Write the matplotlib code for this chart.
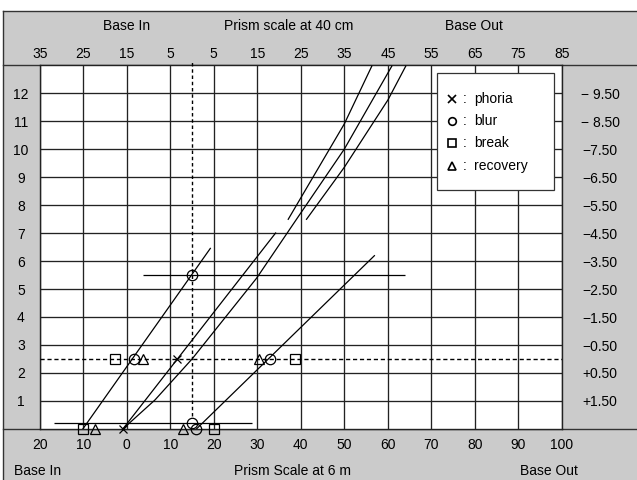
import matplotlib.pyplot as plt
from matplotlib.patches import Rectangle
from matplotlib.lines import Line2D

plt.rcParams['font.family'] = ['Liberation Sans', 'DejaVu Sans']

# scales
dist_ticks = list(range(-20, 101, 10))            # prism at 6 m, base out positive
dist_labels = [str(abs(v)) for v in dist_ticks]
near_labels = ['35', '25', '15', '5', '5', '15', '25', '35', '45', '55', '65', '75', '85']
acc_levels = list(range(1, 13))
lens_labels = ['+1.50', '+0.50', '\u22120.50', '\u22121.50', '\u22122.50', '\u22123.50',
               '\u22124.50', '\u22125.50', '\u22126.50', '\u22127.50', '\u2212 8.50', '\u2212 9.50']

# near findings (accommodation 2.5)
near_y = 2.5
near_phoria = [11.6]
near_blur = [1.7, 32.8]
near_break = [-2.7, 38.6]
near_recovery = [3.8, 30.4]

# distance findings (accommodation 0)
dist_y = 0.0
dist_phoria = [-0.9]
dist_blur = [16.0]
dist_break = [-10.1, 20.0]
dist_recovery = [-7.3, 13.0]

# lens blur findings on the near demand
lens_blur_x = [15.0, 15.0]
lens_blur_y = [0.23, 5.5]
lens_line_y = [0.23, 5.5]
lens_line_x0 = [-16.6, 3.7]
lens_line_x1 = [28.8, 63.9]

# lines
bi_line_x = [-10.1, 19.2]
bi_line_y = [0.0, 6.45]
phoria_line_x = [-0.9, 34.2]
phoria_line_y = [0.0, 7.0]
bo_line_x = [16.0, 56.9]
bo_line_y = [0.0, 6.19]
demand_x = [-0.9, 6.5, 15.0, 29.85, 39.0, 50.0, 60.9]
demand_y = [0.0, 1.04, 2.5, 5.39, 7.49, 10.0, 12.96]
upper_left_x = [37.1, 50.0, 56.3]
upper_left_y = [7.49, 10.9, 12.96]
upper_right_x = [41.3, 50.0, 60.0, 64.1]
upper_right_y = [7.49, 9.35, 11.75, 12.96]

W, H = 637, 480
fig = plt.figure(figsize=(W / 100, H / 100), dpi=100, facecolor='white')
gray = '#cbcbcb'
fig.patches.append(Rectangle((3 / W, 0), 1, 1 - 10.5 / H, transform=fig.transFigure,
                             facecolor=gray, edgecolor='none', zorder=-2))
for (x0, x1, y0, y1) in [(3, W, 10.5, 10.5), (3, 3, 10.5, H), (3, W, 65, 65), (3, W, 429, 429)]:
    fig.lines.append(Line2D([x0 / W, x1 / W], [1 - y0 / H, 1 - y1 / H], transform=fig.transFigure,
                            color='#333333', lw=1.0, zorder=-1))

ax = fig.add_axes([39.7 / W, 1 - 429 / H, (562 - 39.7) / W, (429 - 65) / H])
ax.set_facecolor('white')
ax.set_xlim(-20, 100)
ax.set_ylim(0, 13)
for s in ax.spines.values():
    s.set_color('#222222')
    s.set_linewidth(1.0)

fs = 10
ax.set_xticks(dist_ticks, dist_labels)
ax.set_yticks(acc_levels, [str(v) for v in acc_levels])
ax.tick_params(axis='x', length=0, pad=6.5, labelsize=fs)
ax.tick_params(axis='y', length=0, pad=13.5, labelsize=fs)
for t in ax.get_yticklabels():
    t.set_horizontalalignment('center')
ax.grid(True, color='#222222', lw=0.95)
ax.set_axisbelow(True)

top = ax.twiny()
top.set_xlim(ax.get_xlim())
top.set_xticks(dist_ticks, near_labels)
top.tick_params(axis='x', length=0, pad=3.0, labelsize=fs)
for s in top.spines.values():
    s.set_visible(False)

right = ax.twinx()
right.set_ylim(ax.get_ylim())
right.set_yticks(acc_levels, lens_labels)
right.tick_params(axis='y', length=0, pad=27.4, labelsize=fs)
for t in right.get_yticklabels():
    t.set_horizontalalignment('center')
for s in right.spines.values():
    s.set_visible(False)

lw = 0.9
k = dict(color='black', lw=lw, zorder=3)
ax.plot(bi_line_x, bi_line_y, **k)
ax.plot(phoria_line_x, phoria_line_y, **k)
ax.plot(bo_line_x, bo_line_y, **k)
ax.plot(demand_x, demand_y, clip_on=False, **k)
ax.plot(upper_left_x, upper_left_y, clip_on=False, **k)
ax.plot(upper_right_x, upper_right_y, clip_on=False, **k)
ax.hlines(lens_line_y, lens_line_x0, lens_line_x1, **k)
ax.axhline(near_y, color='black', lw=1.0, ls=(0, (3, 2)), zorder=3)
ax.plot([15, 15], [0.45, 13.12], color='black', lw=1.0, ls=(0, (2.5, 2)), zorder=3, clip_on=False)

m = dict(ls='none', mfc='none', mec='black', mew=0.9, zorder=4, clip_on=False)
ax.plot(near_phoria, [near_y] * len(near_phoria), marker='x', ms=6, **m)
ax.plot(near_blur, [near_y] * len(near_blur), marker='o', ms=7.5, **m)
ax.plot(near_break, [near_y] * len(near_break), marker='s', ms=6.5, **m)
ax.plot(near_recovery, [near_y] * len(near_recovery), marker='^', ms=7.5, **m)
ax.plot(dist_phoria, [dist_y] * len(dist_phoria), marker='x', ms=6, **m)
ax.plot(dist_blur, [dist_y] * len(dist_blur), marker='o', ms=7.5, **m)
ax.plot(dist_break, [dist_y] * len(dist_break), marker='s', ms=6.5, **m)
ax.plot(dist_recovery, [dist_y] * len(dist_recovery), marker='^', ms=7.5, **m)
ax.plot(lens_blur_x, lens_blur_y, marker='o', ms=7.5, **m)

# legend box
ax.add_patch(Rectangle((0.761, 0.657), 0.224, 0.322, transform=ax.transAxes,
                       facecolor='white', edgecolor='#333333', lw=0.9, zorder=5))
legend_items = [('x', 'phoria'), ('o', 'blur'), ('s', 'break'), ('^', 'recovery')]
legend_y = [0.906, 0.846, 0.785, 0.723]
for (mk, name), yy in zip(legend_items, legend_y):
    ax.plot([0.789], [yy], transform=ax.transAxes, marker=mk, ms=5.5, ls='none',
            mfc='none', mec='black', mew=1.2, zorder=6)
    ax.text(0.813, yy, ':', transform=ax.transAxes, ha='center', va='center', fontsize=fs, zorder=6)
    ax.text(0.831, yy, name, transform=ax.transAxes, ha='left', va='center', fontsize=fs, zorder=6)

# band titles
fig.text(127 / W, 1 - 26 / H, 'Base In', ha='center', va='center', fontsize=fs)
fig.text(289 / W, 1 - 26 / H, 'Prism scale at 40 cm', ha='center', va='center', fontsize=fs)
fig.text(474 / W, 1 - 26 / H, 'Base Out', ha='center', va='center', fontsize=fs)
fig.text(14 / W, 1 - 471 / H, 'Base In', ha='left', va='center', fontsize=fs)
fig.text(293 / W, 1 - 471 / H, 'Prism Scale at 6 m', ha='center', va='center', fontsize=fs)
fig.text(578 / W, 1 - 471 / H, 'Base Out', ha='right', va='center', fontsize=fs)

fig.savefig('out.png', dpi=100, facecolor='white')
